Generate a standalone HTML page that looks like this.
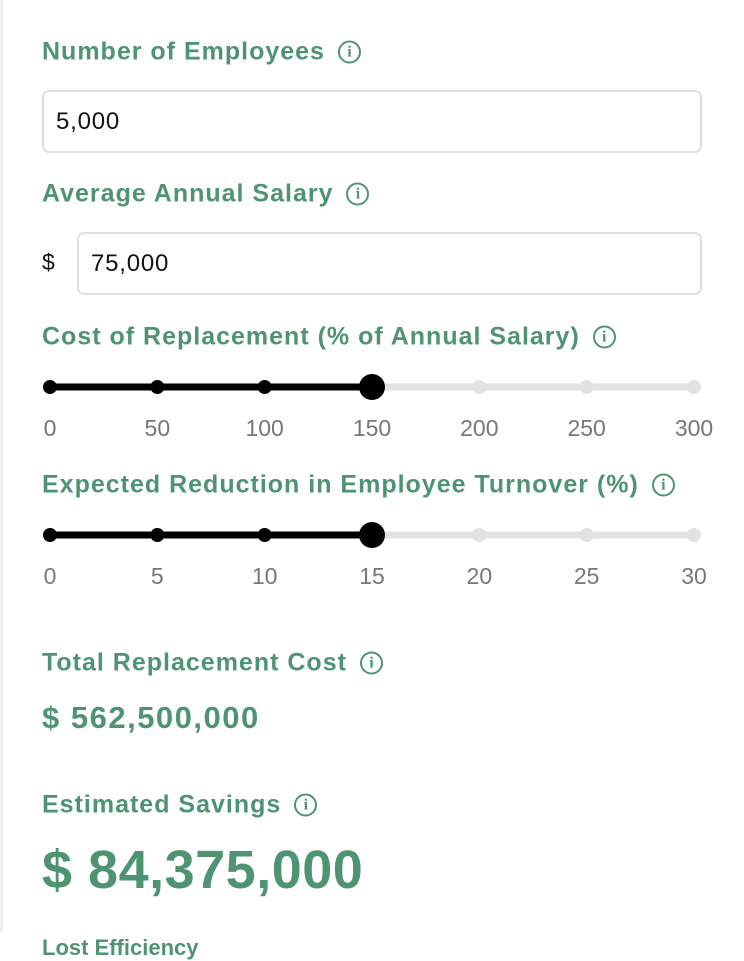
<!DOCTYPE html>
<html><head><meta charset="utf-8"><style>
html,body{margin:0;padding:0;width:744px;height:932px;overflow:hidden;background:#fff;font-family:"Liberation Sans",sans-serif}
.edge{position:absolute;left:0;top:0;width:3px;height:932px;background:#eee}
.h{position:absolute;left:42px;color:#4f9472;font-weight:bold;font-size:25px;letter-spacing:1px;white-space:nowrap;display:flex;align-items:center;gap:13px;transform:translateY(-50%)}
.info{display:inline-block;width:19px;height:19px;border:2.5px solid #4f9472;border-radius:50%;font-size:16px;line-height:19px;text-align:center;font-family:"Liberation Serif",serif;letter-spacing:0}
.inp{position:absolute;border:2px solid #e0e0e0;border-radius:7px;box-sizing:border-box;font-size:24px;letter-spacing:0.8px;color:#111;padding-left:12px;display:flex;align-items:center}
.val{position:absolute;left:42px;color:#4f9472;font-weight:bold;white-space:nowrap;transform:translateY(-50%)}
svg text{font-family:"Liberation Sans",sans-serif}
</style></head><body>
<div class="edge"></div>
<div class="h" style="top:52px">Number of Employees <span class="info">i</span></div>
<div class="inp" style="left:42px;top:90px;width:660px;height:63px">5,000</div>
<div class="h" style="top:194px">Average Annual Salary <span class="info">i</span></div>
<div style="position:absolute;left:42px;top:249px;font-size:23px;color:#111">$</div>
<div class="inp" style="left:77px;top:232px;width:625px;height:63px">75,000</div>
<div class="h" style="top:337px">Cost of Replacement (% of Annual Salary) <span class="info">i</span></div>
<div class="h" style="top:485px">Expected Reduction in Employee Turnover (%) <span class="info">i</span></div>
<svg id="sl" width="744" height="932" style="position:absolute;left:0;top:0;pointer-events:none"></svg>
<div class="h" style="top:663px">Total Replacement Cost <span class="info">i</span></div>
<div class="val" style="top:718px;font-size:31px;letter-spacing:1.5px">$ 562,500,000</div>
<div class="h" style="top:805px">Estimated Savings <span class="info">i</span></div>
<div class="val" style="top:870px;font-size:54px;letter-spacing:0.5px">$ 84,375,000</div>
<div class="val" style="top:948px;font-size:22px">Lost Efficiency</div>
<script>
const costTicks=[0,50,100,150,200,250,300];
const costValue=150;
const turnTicks=[0,5,10,15,20,25,30];
const turnValue=15;
const svg=document.getElementById('sl');
const NS='http://www.w3.org/2000/svg';
const x0=50,x1=694;
function mk(t,a){const e=document.createElementNS(NS,t);for(const k in a)e.setAttribute(k,a[k]);svg.appendChild(e);return e;}
function slider(ticks,value,y,name){
  const mn=ticks[0],mx=ticks[ticks.length-1];
  const sx=v=>x0+(v-mn)/(mx-mn)*(x1-x0);
  let e=mk('line',{x1:x0,x2:x1,y1:y,y2:y,stroke:'#e2e2e2','stroke-width':7,'stroke-linecap':'round'});
  
  
  e=mk('line',{x1:x0,x2:sx(value),y1:y,y2:y,stroke:'#000','stroke-width':7,'stroke-linecap':'round'});
  
  
  ticks.forEach(t=>{
    e=mk('circle',{cx:sx(t),cy:y,r:7,fill:t<=value?'#000':'#e2e2e2'});
    
    
    e=mk('text',{x:sx(t),y:y+49,'text-anchor':'middle','font-size':23,fill:'#777'});
    e.textContent=t;
    
    
  });
  e=mk('circle',{cx:sx(value),cy:y,r:13,fill:'#000'});
  
  
}
slider(costTicks,costValue,387,'cost-slider');
slider(turnTicks,turnValue,535,'turnover-slider');
</script>
</body></html>
